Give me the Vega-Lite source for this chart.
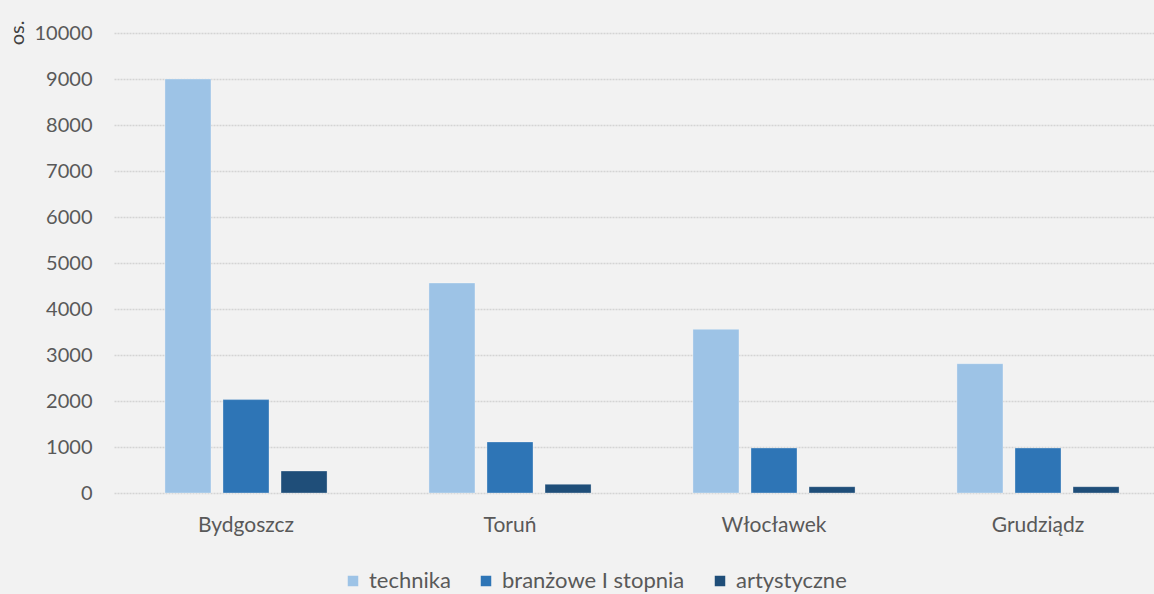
{
  "$schema": "https://vega.github.io/schema/vega-lite/v6.json",
  "width": 1056,
  "height": 460,
  "autosize": "none",
  "padding": {"left": 114, "top": 33, "right": 0, "bottom": 101},
  "background": "#f2f2f2",
  "data": {
    "values": [
      {"miasto": "Bydgoszcz", "typ": "technika", "liczba": 9000},
      {"miasto": "Bydgoszcz", "typ": "branżowe I stopnia", "liczba": 2030},
      {"miasto": "Bydgoszcz", "typ": "artystyczne", "liczba": 478},
      {"miasto": "Toruń", "typ": "technika", "liczba": 4565},
      {"miasto": "Toruń", "typ": "branżowe I stopnia", "liczba": 1110},
      {"miasto": "Toruń", "typ": "artystyczne", "liczba": 189},
      {"miasto": "Włocławek", "typ": "technika", "liczba": 3558},
      {"miasto": "Włocławek", "typ": "branżowe I stopnia", "liczba": 978},
      {"miasto": "Włocławek", "typ": "artystyczne", "liczba": 137},
      {"miasto": "Grudziądz", "typ": "technika", "liczba": 2811},
      {"miasto": "Grudziądz", "typ": "branżowe I stopnia", "liczba": 978},
      {"miasto": "Grudziądz", "typ": "artystyczne", "liczba": 137}
    ]
  },
  "mark": {"type": "bar", "stroke": "#ffffff", "strokeOpacity": 0.3, "strokeWidth": 1},
  "encoding": {
    "x": {
      "field": "miasto",
      "type": "nominal",
      "sort": ["Bydgoszcz", "Toruń", "Włocławek", "Grudziądz"],
      "scale": {"paddingInner": 0.386, "paddingOuter": 0.193},
      "axis": {
        "title": null,
        "labelAngle": 0,
        "labelFont": "Lato",
        "labelFontSize": 21,
        "labelColor": "#595959",
        "labelPadding": 21,
        "ticks": false,
        "domain": false
      }
    },
    "xOffset": {
      "field": "typ",
      "type": "nominal",
      "sort": ["technika", "branżowe I stopnia", "artystyczne"],
      "scale": {"paddingInner": 0.207, "paddingOuter": 0}
    },
    "y": {
      "field": "liczba",
      "type": "quantitative",
      "scale": {"domain": [0, 10000], "nice": false},
      "axis": {
        "values": [0, 1000, 2000, 3000, 4000, 5000, 6000, 7000, 8000, 9000, 10000],
        "format": "d",
        "title": "os.",
        "titleFont": "Lato",
        "titleFontSize": 20,
        "titleFontWeight": "normal",
        "titleColor": "#404040",
        "titleAnchor": "end",
        "titleAngle": -90,
        "titleX": -87,
        "titleY": -13,
        "titleAlign": "right",
        "titleBaseline": "bottom",
        "labelFont": "Lato",
        "labelFontSize": 20,
        "labelColor": "#595959",
        "labelPadding": 22,
        "ticks": false,
        "domain": false,
        "gridColor": "#d4d4d4",
        "gridWidth": 1.5,
        "gridDash": [2, 1]
      }
    },
    "color": {
      "field": "typ",
      "type": "nominal",
      "sort": ["technika", "branżowe I stopnia", "artystyczne"],
      "scale": {
        "domain": ["technika", "branżowe I stopnia", "artystyczne"],
        "range": ["#9dc3e6", "#2e75b6", "#1f4e79"]
      },
      "legend": {
        "title": null,
        "orient": "none",
        "direction": "horizontal",
        "legendX": 228,
        "legendY": 537,
        "symbolType": "square",
        "symbolSize": 110,
        "symbolStrokeWidth": 0,
        "labelFont": "Lato",
        "labelFontSize": 22,
        "labelColor": "#595959",
        "labelOffset": 5,
        "labelLimit": 0,
        "columnPadding": 24
      }
    }
  },
  "config": {"view": {"stroke": null}}
}
